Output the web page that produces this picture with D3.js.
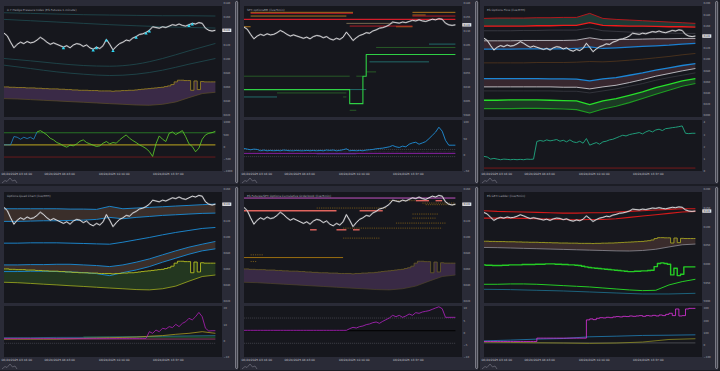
<!DOCTYPE html>
<html>
<head>
<meta charset="utf-8">
<script src="https://cdn.jsdelivr.net/npm/d3@7"></script>
<style>
  html, body { margin: 0; padding: 0; background: #1c1d25; }
  svg { display: block; font-family: "DejaVu Sans", sans-serif; }
</style>
</head>
<body>
<svg id="chart" width="720" height="371"></svg>
<script>
// ---- shared time axis (1 step ~ 12.5 min) ----
const idx65 = d3.range(65);
const knots17 = d3.range(0, 65, 4);
const knots9 = d3.range(0, 65, 8);
const dateTickIdx = [0, 16.7, 33.25, 49.6];
const dateTickLabels = ['06/24/2025 03:16:00', '06/24/2025 06:43:00', '06/24/2025 10:10:00', '06/24/2025 13:37:00'];

const titles = [
  '0.7 Hedge Pressure Index (ES Futures 1-minute)',
  'SPX optionsBB (live/5min)',
  'ES Options Flow (live/RTH)',
  'Options Quad Chart (live/RTH)',
  'ES Futures/SPX Options Cumulative Orderbook (live/5min)',
  'ES GEX Ladder (live/5min)'
];

// ES price (shared by every panel)
const price = [6137, 6133, 6124, 6116, 6121, 6124, 6122, 6125, 6123, 6124, 6127, 6131, 6128, 6124, 6121, 6123,
  6121, 6119, 6117, 6119, 6116, 6120, 6122, 6121, 6118, 6120, 6116, 6114, 6117, 6115, 6119, 6128, 6121, 6113,
  6118, 6122, 6124, 6127, 6126, 6130, 6132, 6135, 6136, 6138, 6141, 6146, 6145, 6144, 6146, 6145, 6147, 6149,
  6148, 6150, 6148, 6147, 6149, 6151, 6150, 6152, 6151, 6144, 6141, 6140, 6141];

// shared level band (upper step line / lower line)
const bandHi = [6060.1, 6060.1, 6059.6, 6059.6, 6059.2, 6059.2, 6059.2, 6058.7, 6058.7, 6058.7, 6058.2, 6058.2,
  6057.7, 6057.7, 6057.3, 6057.3, 6057.3, 6056.8, 6056.8, 6056.3, 6056.3, 6055.8, 6055.8, 6055.3, 6055.3, 6055.3,
  6054.9, 6054.9, 6054.9, 6054.4, 6054.4, 6054.4, 6054.4, 6053.9, 6054.4, 6054.4, 6054.9, 6054.9, 6055.3, 6055.3,
  6055.8, 6056.3, 6056.8, 6057.3, 6057.7, 6058.2, 6058.7, 6059.2, 6059.6, 6060.6, 6061.6, 6063.5, 6067.3, 6069.7,
  6069.7, 6069.2, 6069.2, 6055.3, 6068.7, 6056.3, 6067.8, 6067.3, 6067.3, 6067.3, 6067.3];
const bandLo = [6043.4, 6042.9, 6042.0, 6041.0, 6040.1, 6039.1, 6038.2, 6037.2, 6036.2, 6035.3, 6034.3, 6033.9,
  6035.3, 6038.6, 6044.8, 6050.6, 6052.5];

// ---- panel 1: hedge pressure ----
const p1MainTicks = [6180, 6160, 6140, 6120, 6100, 6080, 6060, 6040, 6020];
const p1SubTicks = [1000, 500, 0, -500, -1000];
const p1TealA = [6166.1, 6165.2, 6164.2, 6163.3, 6162.8, 6162.3, 6161.8, 6161.8, 6161.4];
const p1TealB = [6156.6, 6154.7, 6152.8, 6150.9, 6149.0, 6147.5, 6146.1, 6145.1, 6144.2];
const p1TealC = [6100.7, 6097.4, 6093.6, 6090.7, 6089.7, 6092.6, 6100.7, 6111.7, 6122.2];
const p1TealD = [6091.2, 6086.4, 6081.6, 6078.3, 6076.4, 6078.3, 6084.0, 6092.6, 6100.7];
const p1MarkerIdx = [18, 27, 28, 31, 33, 40, 43, 44, 56, 57];
const p1Osc = [68, 68, 68, 405, 378, 297, 378, 324, 378, 297, 594, 648, 567, 473, 338, 270, 162, 108, 27, -27,
  54, 27, 108, 216, 270, 162, 108, 54, 0, 27, 135, 203, 108, 162, 135, 270, 378, 473, 338, 243, 162, 68, 0, -81,
  -203, -405, 108, 432, 297, 203, 540, 594, 486, 567, 648, 405, 108, 0, -216, -68, 297, 473, 540, 567, 621];
const p1Levels = {upper: 560, mid: 70, lower: -430};

// ---- panel 2: SPX options levels [value, fromIdx, toIdx] ----
const p2MainTicks = [6180, 6155, 6130, 6105, 6080, 6055, 6030, 6005, 5980];
const p2SubTicks = [100, 50, 0, -50];
const p2Red = [[6161.5, 2, 33], [6156.7, 51, 64], [6138.8, 32, 51]];
const p2RedMain = [[6150.7, 0, 64]];
const p2Orange = [[6163.3, 2, 33], [6156.7, 2, 31], [6163.3, 51, 64], [6158.5, 51, 55], [6137.6, 46, 51], [6137.6, 0, 2]];
const p2Tan = [[6143.6, 31, 45]];
const p2Teal = [[6106.6, 56, 64], [6074.9, 38, 56], [6012.2, 0, 10], [6025.4, 32, 37]];
const p2DarkGreen = [[6100.6, 40, 64], [6057.0, 37, 40], [6049.3, 0, 32], [6049.3, 34, 36], [6019.4, 10, 31],
  [5988.4, 32, 34], [6012.2, 30, 31]];
const p2StepIdx = [0, 32, 36, 37, 64];
const p2StepVal = [6025.4, 6000.3, 6049.3, 6088.1, 6088.1];
const p2SubBlue = [19, 17, 15, 17, 16, 12, 14, 12, 13, 12, 13, 12, 14, 13, 12, 12, 13, 12, 12, 13, 12, 13, 12, 13,
  12, 14, 13, 14, 12, 13, 15, 18, 12, 13, 12, 13, 12, 14, 15, 16, 18, 19, 20, 22, 24, 28, 24, 22, 26, 24, 32, 36,
  38, 32, 36, 40, 49, 59, 69, 84, 72, 44, 29, 29, 29];
const p2SubMagenta = [[4, 0, 64]];
const p2SubPurple = [[3, 22, 34]];
const p2SubGray = [[16, 0, 64], [-6, 0, 64]];
const p2SubDotted = [[9, 0, 64]];

// ---- panel 3: ES options flow bands ----
const p3MainTicks = [6200, 6180, 6160, 6140, 6120, 6100, 6080, 6060, 6040, 6020, 6000];
const p3SubTicks = [4, 3, 2, 1, 0];
const p3RedTop = [6172.5, 6173.1, 6173.1, 6173.1, 6173.7, 6173.7, 6174.3, 6174.3, 6181.5, 6172.5, 6170.7, 6169.6,
  6168.4, 6167.2, 6166.0, 6164.8, 6163.6];
const p3RedBot = [6158.8, 6158.8, 6158.8, 6158.8, 6159.4, 6159.4, 6160.0, 6160.0, 6164.8, 6160.0, 6159.4, 6158.8,
  6158.8, 6158.2, 6157.6, 6157.6, 6157.0];
const p3Gray = [6150.4, 6150.4, 6150.4, 6151.0, 6151.0, 6151.6, 6151.6, 6151.6, 6155.2, 6150.4, 6149.3, 6148.1,
  6147.5, 6146.9, 6146.3, 6145.7, 6145.7];
const p3WhiteTop = [6132.5, 6132.5, 6132.5, 6133.1, 6133.1, 6133.1, 6133.1, 6133.7, 6137.9, 6134.3, 6134.9, 6134.9,
  6135.5, 6136.1, 6136.1, 6136.7, 6136.7];
const p3BlueTop = [6117.6, 6117.6, 6117.6, 6118.2, 6118.2, 6118.2, 6118.2, 6118.8, 6121.8, 6118.8, 6120.0, 6121.2,
  6122.4, 6123.6, 6124.8, 6126.6, 6127.8];
const p3Brown = [6093.1, 6093.1, 6093.1, 6093.1, 6093.7, 6093.7, 6093.7, 6094.3, 6095.5, 6094.9, 6096.1, 6097.9,
  6099.7, 6102.1, 6104.5, 6107.5, 6109.9];
const p3BlueLow = [6065.1, 6065.1, 6065.1, 6065.1, 6065.1, 6064.5, 6064.5, 6063.9, 6060.9, 6064.5, 6066.9, 6071.0,
  6075.2, 6080.0, 6084.2, 6088.4, 6091.9];
const p3WhiteLow = [6050.2, 6050.2, 6050.2, 6050.2, 6050.2, 6050.2, 6049.6, 6049.6, 6046.6, 6050.2, 6053.1, 6057.9,
  6063.3, 6069.3, 6074.0, 6078.8, 6083.0];
const p3GrayLow = [6043.0, 6043.0, 6043.0, 6043.0, 6043.0, 6043.0, 6042.4, 6042.4, 6039.4, 6043.0, 6046.6, 6051.3,
  6056.1, 6062.1, 6066.9, 6071.0, 6075.2];
const p3GreenHi = [6026.3, 6026.3, 6026.9, 6026.9, 6026.9, 6026.3, 6025.7, 6025.1, 6018.5, 6025.1, 6029.3, 6035.2,
  6041.2, 6049.0, 6054.9, 6060.9, 6065.1];
const p3GreenLo = [6011.3, 6011.3, 6011.3, 6011.9, 6011.9, 6011.3, 6010.7, 6009.6, 6003.6, 6010.7, 6015.5, 6022.1,
  6029.3, 6037.0, 6044.2, 6051.3, 6056.1];
const p3SubFlow = [1.19, 1.14, 0.97, 1.03, 0.97, 0.92, 0.97, 0.95, 0.92, 0.95, 0.92, 0.95, 0.92, 0.97, 0.95, 0.97,
  2.41, 2.49, 2.43, 2.54, 2.46, 2.51, 2.57, 2.43, 2.51, 2.38, 2.54, 2.38, 2.32, 2.43, 2.27, 2.65, 2.11, 2.22, 2.32,
  2.19, 2.38, 2.43, 2.54, 2.59, 2.70, 2.81, 2.92, 2.86, 2.97, 3.03, 3.08, 3.14, 3.03, 3.19, 3.30, 3.19, 3.35, 3.41,
  3.30, 3.46, 3.49, 3.54, 3.57, 3.62, 3.68, 3.08, 3.05, 3.08, 3.08];
const p3SubRed = [[0.24, 0, 64]];

// ---- panel 4: options quad chart ----
const p4MainTicks = [6160, 6140, 6120, 6100, 6080, 6060, 6040, 6020];
const p4SubTicks = [20, 10, 0, -10];
const p4BlueA = [6135.3, 6135.3, 6135.3, 6135.3, 6135.3, 6134.9, 6134.9, 6134.5, 6138.3, 6135.3, 6136.2, 6137.0,
  6137.8, 6138.7, 6139.5, 6140.4, 6141.2];
const p4BlueB = [6119.5, 6119.5, 6119.9, 6120.3, 6120.3, 6120.7, 6121.1, 6122.0, 6124.5, 6122.8, 6124.5, 6125.7,
  6127.0, 6127.8, 6128.7, 6129.5, 6129.9];
const p4BlueC = [6092.3, 6092.3, 6092.7, 6092.7, 6092.7, 6092.3, 6091.9, 6091.4, 6091.0, 6093.5, 6096.5, 6099.4,
  6102.7, 6105.7, 6108.2, 6110.7, 6111.9];
const p4BlueD = [6065.1, 6065.1, 6065.5, 6065.5, 6065.9, 6065.9, 6065.1, 6064.3, 6063.0, 6065.1, 6068.5, 6072.6,
  6077.7, 6082.7, 6087.3, 6091.0, 6094.4];
const p4BlueE = [6056.8, 6056.8, 6057.2, 6057.2, 6056.8, 6056.3, 6055.5, 6054.2, 6051.7, 6055.5, 6058.8, 6063.0,
  6068.5, 6073.5, 6078.5, 6082.7, 6085.2];
const p4SubMagenta = [1.4, 1.4, 1.4, 1.4, 1.4, 1.4, 1.4, 1.4, 1.4, 1.4, 1.4, 1.4, 1.4, 1.4, 1.4, 1.4, 1.4, 1.4,
  1.4, 1.4, 1.4, 1.4, 1.4, 1.4, 1.4, 1.4, 1.4, 1.4, 1.4, 1.4, 1.4, 1.4, 1.4, 1.4, 1.4, 1.4, 1.4, 1.4, 1.4, 1.4,
  1.4, 1.4, 1.4, 1.4, 5.5, 4.5, 6.5, 5.5, 7.6, 7.1, 8.6, 8.0, 10.0, 8.6, 10.6, 11.6, 13.7, 12.7, 14.7, 17.3, 14.7,
  7.6, 5.9, 6.1, 6.1];
const p4SubYellow = [1.0, 1.0, 1.0, 1.0, 1.0, 1.2, 1.4, 1.6, 1.8, 2.0, 2.2, 2.7, 3.1, 3.9, 4.5, 5.5, 4.5];
const p4SubTeal = [1.8, 1.8, 2.0, 2.0, 2.2, 2.4, 2.7, 2.9, 3.1];
const p4SubGreen = [[2.2, 24, 64]];
const p4SubPink = [[1.0, 0, 64]];
const p4SubGray = [[-1.6, 0, 64]];

// ---- panel 5: cumulative orderbook ----
const p5MainTicks = [6160, 6140, 6120, 6100, 6080, 6060, 6040, 6020];
const p5SubTicks = [10, 5, 0, -5, -10];
const p5Magenta = [[6148.7, 0, 64]];
const p5Salmon = [[6132.8, 0, 28], [6132.8, 35, 42], [6145.4, 52, 56], [6145.4, 58, 60], [6109.0, 20, 22],
  [6109.0, 28, 31], [6109.0, 33, 35]];
const p5OrangeDash = [[6136.2, 22, 43], [6142.4, 54, 64], [6145.4, 44, 52], [6128.7, 51, 59], [6123.6, 51, 58],
  [6117.4, 46, 61], [6111.1, 30, 60], [6098.6, 30, 41], [6077.7, 2, 6], [6069.3, 2, 4], [6140.4, 55, 64]];
const p5OrangeSolid = [[6074.3, 0, 30]];
const p5SubMagenta = [0.88, 0.88, 0.88, 0.88, 0.88, 0.88, 0.88, 0.88, 0.88, 0.88, 0.88, 0.88, 0.88, 0.88, 0.88,
  0.88, 0.88, 0.88, 0.88, 0.88, 0.88, 0.88, 0.88, 0.88, 0.88, 0.88, 0.88, 0.88, 0.88, 0.88, 0.88, 0.88, 1.56, 2.11,
  1.84, 2.38, 2.65, 3.20, 3.47, 4.01, 4.29, 3.74, 4.56, 5.24, 5.92, 7.01, 6.46, 7.01, 6.19, 6.73, 7.55, 7.01, 8.10,
  7.82, 8.37, 8.64, 8.91, 9.46, 10.0, 10.5, 9.73, 6.19, 6.19, 6.19, 6.19];
const p5SubDashed = [[5.9, 0, 64], [-4.4, 0, 64]];
const p5SubBlack = [[0.75, 0, 64]];

// ---- panel 6: GEX ladder ----
const p6MainTicks = [6200, 6150, 6100, 6050, 6000, 5950, 5900];
const p6SubTicks = [300, 200, 100, 0, -100];
const p6RedHi = [6141.8, 6140.0, 6139.1, 6138.2, 6137.3, 6136.4, 6135.5, 6135.5, 6136.4, 6136.4, 6138.2, 6140.0,
  6141.8, 6143.6, 6145.4, 6147.2, 6147.2];
const p6RedLo = [6122.1, 6122.1, 6122.1, 6121.2, 6120.3, 6119.4, 6118.5, 6117.6, 6118.5, 6118.5, 6120.3, 6123.9,
  6127.5, 6131.0, 6134.6, 6138.2, 6140.0];
const p6Green = [5996.7, 5995.8, 5995.8, 5994.9, 5994.9, 5994.9, 5995.8, 5995.8, 5996.7, 5996.7, 5996.7, 5996.7,
  5997.6, 5997.6, 5997.6, 5997.6, 5998.5, 5998.5, 5998.5, 5999.4, 5999.4, 5999.4, 5998.5, 5998.5, 5997.6, 5997.6,
  5996.7, 5996.7, 5995.8, 5994.9, 5993.1, 5991.3, 5989.6, 5988.7, 5987.8, 5986.9, 5986.0, 5985.1, 5984.2, 5983.3,
  5982.4, 5981.5, 5980.6, 5979.7, 5978.8, 5978.8, 5979.7, 5979.7, 5980.6, 5980.6, 5981.5, 5982.4, 5992.2, 6000.3,
  6002.1, 6000.3, 5998.5, 5969.9, 5987.8, 5968.1, 5971.6, 5991.3, 5991.3, 5991.3, 5991.3];
const p6GreenLo = [5944.8, 5944.8, 5945.7, 5945.7, 5944.8, 5943.0, 5941.2, 5939.4, 5937.6, 5934.9, 5932.2, 5929.6,
  5927.8, 5928.7, 5943.0, 5951.9, 5958.2];
const p6BlueLo = [5931.4, 5930.5, 5928.7, 5926.9, 5924.2, 5921.5, 5918.8, 5918.8, 5920.6];
const p6SubMagenta = [27, 27, 27, 27, 27, 27, 27, 27, 27, 27, 27, 27, 27, 27, 27, 27, 54, 54, 54, 54, 54, 54, 54,
  54, 54, 54, 54, 54, 54, 54, 54, 203, 211, 205, 216, 221, 219, 224, 221, 227, 230, 227, 232, 230, 235, 232, 235,
  238, 232, 238, 235, 240, 235, 243, 238, 248, 257, 238, 292, 235, 238, 292, 297, 297, 297];
const p6SubBlue = [32, 38, 46, 51, 65, 70, 76, 78, 81];
const p6SubOlive = [22, 19, 16, 14, 11, 14, 22, 43, 49];
const p6SubGray = [[15, 0, 64]];

const svg = d3.select('#chart');

class DashPanel {

  /**
   * One dashboard tile: main price chart on top, indicator strip below
   * @param {Object}
   */
  constructor(_config) {
    this.config = {
      col: _config.col,
      row: _config.row,
      title: _config.title,
      mainTicks: _config.mainTicks,
      subTicks: _config.subTicks,
      width: 238,
      height: 184,
      margin: {left: 4, right: 222, mainTop: 6, mainBottom: 117, subTop: 120, subBottom: 171}
    };
    this.initVis();
  }

  initVis() {
    let vis = this;
    const c = vis.config, m = c.margin;
    const id = `tile${c.row}${c.col}`;

    vis.g = svg.append('g').attr('transform', `translate(${c.col * 240},${c.row * 186})`);
    const defs = vis.g.append('defs');
    defs.append('clipPath').attr('id', id + 'all').append('rect')
        .attr('width', c.width).attr('height', c.height);
    defs.append('clipPath').attr('id', id + 'main').append('rect')
        .attr('x', m.left).attr('y', m.mainTop).attr('width', m.right - m.left).attr('height', m.mainBottom - m.mainTop);
    defs.append('clipPath').attr('id', id + 'sub').append('rect')
        .attr('x', m.left).attr('y', m.subTop).attr('width', m.right - m.left).attr('height', m.subBottom - m.subTop);

    vis.root = vis.g.append('g').attr('clip-path', `url(#${id}all)`);
    vis.root.append('rect').attr('width', c.width).attr('height', c.height).attr('fill', '#2a2b37');
    vis.root.append('rect').attr('x', m.left).attr('y', m.mainTop)
        .attr('width', m.right - m.left).attr('height', m.mainBottom - m.mainTop).attr('fill', '#16171d');
    vis.root.append('rect').attr('x', m.left).attr('y', m.subTop)
        .attr('width', m.right - m.left).attr('height', m.subBottom - m.subTop).attr('fill', '#16171d');

    // Scales
    vis.xScale = d3.scaleLinear().domain([0, 66]).range([m.left, m.right]);
    vis.yMain = d3.scaleLinear().domain(d3.extent(c.mainTicks)).range([115, 3]);
    vis.ySub = d3.scaleLinear().domain(d3.extent(c.subTicks)).range([171, 122]);

    vis.main = vis.root.append('g').attr('clip-path', `url(#${id}main)`);
    vis.sub = vis.root.append('g').attr('clip-path', `url(#${id}sub)`);

    // Axes
    const styleAxis = (sel, size, color) => {
      sel.select('.domain').remove();
      sel.attr('font-size', size).attr('font-family', '"DejaVu Sans", sans-serif').attr('color', color);
    };
    vis.root.append('g')
        .attr('transform', `translate(${m.right},0)`)
        .call(d3.axisRight(vis.yMain).tickValues(c.mainTicks).tickSize(0).tickPadding(1.6).tickFormat(d3.format('d')))
        .call(styleAxis, 2.6, '#a9aab6');
    vis.root.append('g')
        .attr('transform', `translate(${m.right},0)`)
        .call(d3.axisRight(vis.ySub).tickValues(c.subTicks).tickSize(0).tickPadding(1.6).tickFormat(d3.format('d')))
        .call(styleAxis, 2.6, '#a9aab6');
    vis.dateAxisG = vis.root.append('g')
        .attr('transform', `translate(0,${m.subBottom})`)
        .call(d3.axisBottom(vis.xScale).tickValues(dateTickIdx).tickSize(0).tickPadding(2.2)
          .tickFormat((d, i) => dateTickLabels[i]))
        .call(styleAxis, 2.9, '#c3c4cc');
    // first date label sits at the left edge: anchor it so it stays readable
    vis.dateAxisG.select('.tick text')
        .attr('text-anchor', 'start')
        .attr('x', 1 - vis.xScale(dateTickIdx[0]));

    // Title
    vis.root.append('text')
        .attr('x', 7).attr('y', 11)
        .attr('font-size', 2.9).attr('fill', '#a3a4b0')
        .text(c.title);

    // little logo, bottom-left
    vis.root.append('path')
        .attr('d', d3.line()([[2, 183], [5, 180.5], [7, 181.5], [10, 178], [12.5, 181], [15, 180], [17, 183]]))
        .attr('fill', 'none').attr('stroke', '#8a8b98').attr('stroke-width', 0.5);

    // scrollbar on the right edge
    vis.g.append('rect')
        .attr('x', 235.6).attr('y', 1.5).attr('width', 2.1).attr('height', 181).attr('rx', 1)
        .attr('fill', '#3b3c48').attr('stroke', '#d6d7de').attr('stroke-width', 0.5);
  }

  line(layer, vals, idxs, color, width, curve, extra) {
    let vis = this;
    const y = layer === vis.main ? vis.yMain : vis.ySub;
    const path = layer.append('path')
        .datum(vals.map((v, i) => [idxs[i], v]))
        .attr('fill', 'none')
        .attr('stroke', color)
        .attr('stroke-width', width)
        .attr('stroke-linejoin', 'round')
        .attr('d', d3.line().x(d => vis.xScale(d[0])).y(d => y(d[1])).curve(curve || d3.curveLinear));
    if (extra) extra(path);
    return path;
  }

  fill(layer, hiVals, hiIdx, loVals, loIdx, color, hiCurve) {
    let vis = this;
    const y = layer === vis.main ? vis.yMain : vis.ySub;
    const hiPts = hiVals.map((v, i) => [vis.xScale(hiIdx[i]), y(v)]);
    const loPts = loVals.map((v, i) => [vis.xScale(loIdx[i]), y(v)]).reverse();
    const top = d3.line().curve(hiCurve || d3.curveLinear)(hiPts);
    const bottom = d3.line()(loPts).replace(/^M/, 'L');
    layer.append('path').attr('d', top + bottom + 'Z').attr('fill', color);
  }

  levels(layer, list, color, width, dash) {
    let vis = this;
    const y = layer === vis.main ? vis.yMain : vis.ySub;
    layer.selectAll(null)
        .data(list)
      .join('line')
        .attr('x1', d => vis.xScale(d[1]))
        .attr('x2', d => vis.xScale(d[2]))
        .attr('y1', d => y(d[0]))
        .attr('y2', d => y(d[0]))
        .attr('stroke', color)
        .attr('stroke-width', width)
        .attr('stroke-dasharray', dash || null);
  }

  price() {
    let vis = this;
    vis.line(vis.main, price, idx65, '#8c8c94', 1.8, null, p => p.attr('opacity', 0.45));
    vis.line(vis.main, price, idx65, '#f2f2f2', 0.8);
    const last = price[price.length - 1];
    const ty = vis.yMain(last);
    vis.root.append('rect').attr('x', 222.3).attr('y', ty - 1.7).attr('width', 9).attr('height', 3.4)
        .attr('fill', '#e4e4ea');
    vis.root.append('text').attr('x', 223.6).attr('y', ty + 0.9).attr('font-size', 2.6).attr('fill', '#22232b')
        .text(last);
  }
}

// ---------- panel 1 ----------
const p1 = new DashPanel({col: 0, row: 0, title: titles[0], mainTicks: p1MainTicks, subTicks: p1SubTicks});
[p1TealA, p1TealB, p1TealC, p1TealD].forEach(s => p1.line(p1.main, s, knots9, '#1f4c52', 0.8, d3.curveMonotoneX));
p1.fill(p1.main, bandHi, idx65, bandLo, knots17, '#3a2a47', d3.curveStep);
p1.line(p1.main, bandLo, knots17, '#5d4f27', 0.7);
p1.line(p1.main, bandHi, idx65, '#a08822', 0.8, d3.curveStep);
p1.price();
p1.main.selectAll(null)
    .data(p1MarkerIdx)
  .join('path')
    .attr('transform', d => `translate(${p1.xScale(d)},${p1.yMain(price[d]) + 1.2})`)
    .attr('d', d3.symbol(d3.symbolTriangle, 5))
    .attr('fill', '#2fd6f2');
p1.levels(p1.sub, [[p1Levels.upper, 0, 64]], '#2f9a2a', 0.7);
p1.levels(p1.sub, [[p1Levels.mid, 0, 64]], '#9d8b1e', 1.2);
p1.levels(p1.sub, [[p1Levels.lower, 0, 64]], '#8e1d1d', 0.7);
p1.line(p1.sub, p1Osc.slice(0, 11), idx65.slice(0, 11), '#1f87c8', 0.8);
p1.line(p1.sub, p1Osc.slice(10), idx65.slice(10), '#5fd42a', 0.8);

// ---------- panel 2 ----------
const p2 = new DashPanel({col: 1, row: 0, title: titles[1], mainTicks: p2MainTicks, subTicks: p2SubTicks});
p2.levels(p2.main, p2DarkGreen, '#2c6b2a', 0.8);
p2.levels(p2.main, p2Teal, '#24807e', 0.8);
p2.levels(p2.main, p2Tan, '#8d7a5a', 0.8);
p2.levels(p2.main, p2Orange, '#d08a1c', 0.8);
p2.levels(p2.main, p2Red, '#c21b27', 0.9);
p2.levels(p2.main, p2RedMain, '#d41d2b', 1.4);
p2.line(p2.main, p2StepVal, p2StepIdx, '#2fd045', 1.1, d3.curveStepAfter);
p2.price();
p2.levels(p2.sub, p2SubGray, '#5a5b66', 0.5, '1.2,0.8');
p2.levels(p2.sub, p2SubDotted, '#4a4b56', 0.5, '0.5,0.8');
p2.levels(p2.sub, p2SubMagenta, '#a322c4', 0.8);
p2.levels(p2.sub, p2SubPurple, '#6b2a9a', 1.2);
p2.line(p2.sub, p2SubBlue, idx65, '#1f8fd8', 0.9);

// ---------- panel 3 ----------
const p3 = new DashPanel({col: 2, row: 0, title: titles[2], mainTicks: p3MainTicks, subTicks: p3SubTicks});
p3.fill(p3.main, p3RedTop, knots17, p3RedBot, knots17, '#1e3a35');
p3.fill(p3.main, p3WhiteTop, knots17, p3BlueTop, knots17, '#37272f');
p3.fill(p3.main, p3BlueLow, knots17, p3WhiteLow, knots17, '#37272f');
p3.fill(p3.main, p3GreenHi, knots17, p3GreenLo, knots17, '#1c3a24');
p3.line(p3.main, p3Gray, knots17, '#4d4e58', 0.6);
p3.line(p3.main, p3Brown, knots17, '#5c3b1c', 0.7);
p3.line(p3.main, p3GrayLow, knots17, '#45464f', 0.6);
p3.line(p3.main, p3RedTop, knots17, '#c4161c', 0.9);
p3.line(p3.main, p3RedBot, knots17, '#ee1c1c', 1.3);
p3.line(p3.main, p3WhiteTop, knots17, '#bdbdc4', 0.9);
p3.line(p3.main, p3BlueTop, knots17, '#1b7fd0', 1.2);
p3.line(p3.main, p3BlueLow, knots17, '#1b86d6', 1.3);
p3.line(p3.main, p3WhiteLow, knots17, '#c6c6cc', 0.9);
p3.line(p3.main, p3GreenHi, knots17, '#27e02a', 1.3);
p3.line(p3.main, p3GreenLo, knots17, '#1e9c22', 1.1);
p3.price();
p3.levels(p3.sub, p3SubRed, '#8e1b1b', 0.8);
p3.line(p3.sub, p3SubFlow, idx65, '#1f9a78', 1.0);

// ---------- panel 4 ----------
const p4 = new DashPanel({col: 0, row: 1, title: titles[3], mainTicks: p4MainTicks, subTicks: p4SubTicks});
p4.fill(p4.main, p4BlueA, knots17, p4BlueB, knots17, '#3a2e2a');
p4.fill(p4.main, p4BlueD, knots17, p4BlueE, knots17, '#3a2e2a');
p4.fill(p4.main, bandHi, idx65, bandLo, knots17, '#233720', d3.curveStep);
[p4BlueA, p4BlueB, p4BlueC, p4BlueD, p4BlueE].forEach(s => p4.line(p4.main, s, knots17, '#1b82c6', 1.0));
p4.line(p4.main, bandLo, knots17, '#a2ad1e', 0.8);
p4.line(p4.main, bandHi, idx65, '#b4c020', 0.9, d3.curveStep);
p4.price();
p4.levels(p4.sub, p4SubGray, '#5a5b66', 0.5, '1.2,0.8');
p4.levels(p4.sub, p4SubPink, '#c2467e', 0.7);
p4.levels(p4.sub, p4SubGreen, '#2b8c3c', 0.7);
p4.line(p4.sub, p4SubTeal, knots9, '#2a7fa0', 0.7);
p4.line(p4.sub, p4SubYellow, knots17, '#a99a1e', 0.8);
p4.line(p4.sub, p4SubMagenta, idx65, '#b01fb8', 0.8);

// ---------- panel 5 ----------
const p5 = new DashPanel({col: 1, row: 1, title: titles[4], mainTicks: p5MainTicks, subTicks: p5SubTicks});
p5.fill(p5.main, bandHi, idx65, bandLo, knots17, '#392a45', d3.curveStep);
p5.line(p5.main, bandLo, knots17, '#4f4528', 0.7);
p5.line(p5.main, bandHi, idx65, '#6b5d26', 0.8, d3.curveStep);
p5.levels(p5.main, p5OrangeSolid, '#a8770f', 0.9);
p5.levels(p5.main, p5OrangeDash, '#a87a18', 0.6, '1.2,1.0');
p5.levels(p5.main, p5Salmon, '#e0655f', 1.4);
p5.levels(p5.main, p5Magenta, '#d659d6', 0.9);
p5.price();
p5.levels(p5.sub, p5SubDashed, '#5f6069', 0.5, '1.2,0.8');
p5.levels(p5.sub, p5SubBlack, '#050507', 1.4);
p5.line(p5.sub, p5SubMagenta, idx65, '#b423c4', 0.8);

// ---------- panel 6 ----------
const p6 = new DashPanel({col: 2, row: 1, title: titles[5], mainTicks: p6MainTicks, subTicks: p6SubTicks});
p6.fill(p6.main, bandHi, idx65, bandLo, knots17, '#3a2c2c', d3.curveStep);
p6.line(p6.main, bandHi, idx65, '#a3a221', 0.9, d3.curveStep);
p6.line(p6.main, bandLo, knots17, '#8e8d95', 0.8);
p6.line(p6.main, p6BlueLo, knots9, '#1d6a86', 0.9);
p6.line(p6.main, p6GreenLo, knots17, '#25cc25', 1.0);
p6.line(p6.main, p6Green, idx65, '#25cc25', 1.4, d3.curveStep);
p6.line(p6.main, p6RedHi, knots17, '#d41a1a', 1.1);
p6.line(p6.main, p6RedLo, knots17, '#d41a1a', 1.1);
p6.price();
p6.levels(p6.sub, p6SubGray, '#6a6b72', 0.6);
p6.line(p6.sub, p6SubOlive, knots9, '#8c8a22', 0.8);
p6.line(p6.sub, p6SubBlue, knots9, '#1f7fb6', 0.8);
p6.line(p6.sub, p6SubMagenta, idx65, '#e033e0', 0.8, d3.curveStepAfter);
</script>
</body>
</html>
